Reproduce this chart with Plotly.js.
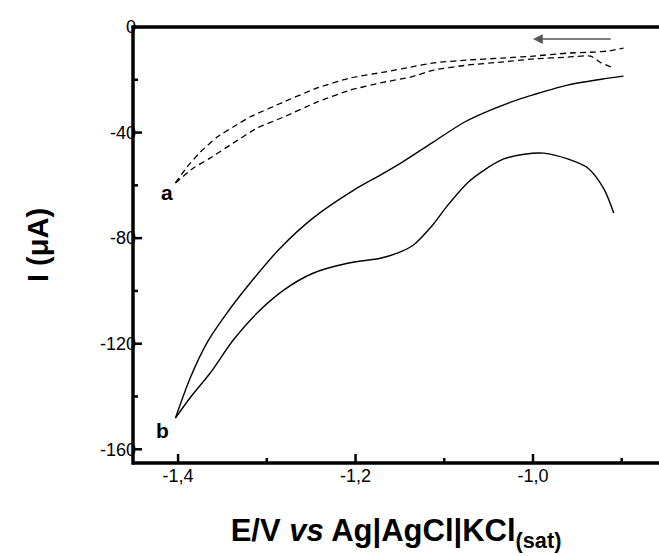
<!DOCTYPE html>
<html>
<head>
<meta charset="utf-8">
<script src="https://cdn.plot.ly/plotly-3.0.1.min.js"></script>
<style>html,body{margin:0;padding:0;background:#fff;}#chart{width:659px;height:556px;}</style>
</head>
<body>
<div id="chart"></div>
<script>
// Curve a (dashed): two branches of the voltammogram
var aUpperE = [-1.403, -1.390, -1.375, -1.356, -1.338, -1.319, -1.281, -1.243, -1.206, -1.168, -1.138, -1.112, -1.073, -1.036, -0.999, -0.961, -0.931, -0.915, -0.898];
var aUpperI = [-59.1, -53.1, -47.4, -41.7, -37.9, -34.1, -28.4, -23.1, -19.3, -17.1, -15.2, -13.6, -12.5, -11.8, -11.0, -9.9, -9.5, -9.1, -8.0];
var aLowerE = [-1.403, -1.383, -1.364, -1.338, -1.311, -1.281, -1.243, -1.206, -1.168, -1.138, -1.112, -1.073, -1.036, -0.999, -0.961, -0.935, -0.923, -0.909];
var aLowerI = [-59.1, -53.5, -49.7, -44.0, -38.3, -34.1, -28.4, -23.9, -20.9, -19.0, -16.3, -14.4, -13.3, -12.1, -11.4, -11.0, -13.6, -15.5];

// Curve b (solid)
var bUpperE = [-1.403, -1.386, -1.367, -1.345, -1.319, -1.285, -1.248, -1.202, -1.172, -1.149, -1.112, -1.077, -1.048, -1.017, -0.999, -0.961, -0.923, -0.898];
var bUpperI = [-148.2, -132.7, -119.4, -108.4, -97.1, -83.8, -72.4, -61.8, -56.1, -51.6, -43.5, -36.0, -31.5, -27.5, -25.6, -22.0, -19.8, -18.6];
var bLowerE = [-1.403, -1.386, -1.364, -1.338, -1.311, -1.281, -1.248, -1.209, -1.172, -1.153, -1.135, -1.115, -1.096, -1.073, -1.055, -1.033, -1.010, -0.988, -0.961, -0.938, -0.920, -0.909];
var bLowerI = [-148.2, -140.3, -131.2, -118.7, -108.4, -99.7, -93.3, -89.5, -87.6, -85.7, -82.7, -75.8, -67.5, -58.8, -54.2, -50.0, -48.2, -47.8, -50.0, -53.5, -61.4, -70.5];

// Tick labels
var xTickVals = [-1.4, -1.2, -1.0];
var xTickText = ['-1,4', '-1,2', '-1,0'];
var xMinorVals = [-1.3, -1.1, -0.9];
var yTickVals = [0, -40, -80, -120, -160];
var yTickText = ['0', '-40', '-80', '-120', '-160'];
var yMinorVals = [-20, -60, -100, -140];

// Curve labels
var curveLabels = ['a', 'b'];
var labelE = [-1.4124, -1.418];
var labelI = [-62.6, -152.8];

var FONT = 'Liberation Sans, Arial, sans-serif';
var X_RANGE = [-1.4508, -0.858];
var Y_RANGE = [-165.2, 0];
var dashLine = {color: '#000', width: 1.3, dash: '6px,4px', shape: 'spline', smoothing: 0.5};
var solidLine = {color: '#000', width: 1.4, shape: 'spline', smoothing: 0.8};

var traces = [
  {x: aUpperE, y: aUpperI, mode: 'lines', line: dashLine},
  {x: aLowerE, y: aLowerI, mode: 'lines', line: dashLine},
  {x: bUpperE, y: bUpperI, mode: 'lines', line: solidLine},
  {x: bLowerE, y: bLowerI, mode: 'lines', line: solidLine}
];

var annotations = curveLabels.map(function (t, i) {
  return {x: labelE[i], y: labelI[i], xref: 'x', yref: 'y', text: '<b>' + t + '</b>',
          showarrow: false, font: {family: FONT, size: 21, color: 'black'}};
});
annotations.push({x: -1.0, y: -4.55, ax: -0.9107, ay: -4.55, axref: 'x', ayref: 'y', xref: 'x', yref: 'y',
  text: '', showarrow: true, arrowhead: 2, arrowsize: 1.3, arrowwidth: 1.5, arrowcolor: '#555', standoff: 0});

// Frame lines and inward ticks, placed through the axes' own scales
var frame = {type: 'line', layer: 'above', line: {color: 'black', width: 3.5}};
var shapes = [
  Object.assign({}, frame, {xref: 'paper', yref: 'paper', x0: 0, x1: 1, y0: 0, y1: 0}),
  Object.assign({}, frame, {xref: 'paper', yref: 'paper', x0: 0, x1: 1, y0: 1, y1: 1}),
  Object.assign({}, frame, {xref: 'paper', yref: 'paper', x0: 0, x1: 0, y0: -0.004, y1: 1.004})
];
function xTick(v, len) {
  return {type: 'line', layer: 'above', xref: 'x', yref: 'paper', x0: v, x1: v,
          ysizemode: 'pixel', yanchor: 0, y0: 0, y1: len, line: {color: 'black', width: 2.5}};
}
function yTick(v, len) {
  return {type: 'line', layer: 'above', xref: 'paper', yref: 'y', y0: v, y1: v,
          xsizemode: 'pixel', xanchor: 0, x0: 0, x1: len, line: {color: 'black', width: 2.5}};
}
xTickVals.forEach(function (v) { shapes.push(xTick(v, 9)); });
xMinorVals.forEach(function (v) { shapes.push(xTick(v, 5)); });
yTickVals.forEach(function (v) { shapes.push(yTick(v, 9)); });
yMinorVals.forEach(function (v) { shapes.push(yTick(v, 5)); });

var layout = {
  width: 659, height: 556,
  margin: {l: 133, r: 0, t: 27, b: 93},
  showlegend: false,
  xaxis: {
    range: X_RANGE, showgrid: false, zeroline: false, showline: false, ticks: '',
    tickmode: 'array', tickvals: xTickVals, ticktext: xTickText,
    tickfont: {family: FONT, size: 18, color: 'black'},
    title: {text: '<b>E/V <i>vs</i> Ag|AgCl|KCl<sub>(sat)</sub></b>', font: {family: FONT, size: 31, color: 'black'}, standoff: 34}
  },
  yaxis: {
    range: Y_RANGE, showgrid: false, zeroline: false, showline: false, ticks: '',
    tickmode: 'array', tickvals: yTickVals, ticktext: yTickText,
    ticklabelstandoff: -4,
    tickfont: {family: FONT, size: 18, color: 'black'},
    title: {text: '<b>I (μA)</b>', font: {family: FONT, size: 29, color: 'black'}, standoff: 42}
  },
  annotations: annotations,
  shapes: shapes
};

Plotly.newPlot('chart', traces, layout, {displayModeBar: false});
</script>
</body>
</html>
